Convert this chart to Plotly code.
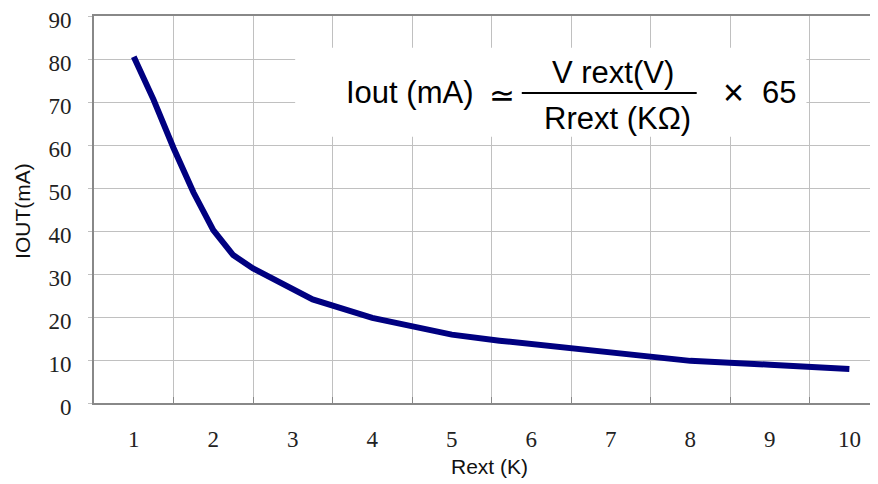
import plotly.graph_objects as go

# Data
rext_k = [1, 1.25, 1.5, 1.75, 2, 2.25, 2.5, 3.25, 4, 5, 5.6, 6.5, 7.5, 8, 9, 10]
iout_ma = [80.5, 70.5, 59.3, 49.0, 40.2, 34.4, 31.3, 24.1, 19.8, 15.9, 14.5, 12.7, 10.8, 9.8, 8.9, 7.9]
x_tick_vals = [1, 2, 3, 4, 5, 6, 7, 8, 9, 10]
x_tick_text = ["1", "2", "3", "4", "5", "6", "7", "8", "9", "10"]
x_grid_vals = [1.5, 2.5, 3.5, 4.5, 5.5, 6.5, 7.5, 8.5, 9.5]
y_tick_vals = [0, 10, 20, 30, 40, 50, 60, 70, 80, 90]

SANS = "Arial, Liberation Sans, sans-serif"
SERIF = "Times New Roman, Liberation Serif, serif"
GRID = "#c0c0c0"
AXIS = "#888888"

fig = go.Figure()
fig.add_trace(go.Scatter(
    x=rext_k, y=iout_ma, mode="lines",
    line=dict(color="#000080", width=6),
    hoverinfo="skip", showlegend=False,
))

# page body has an 8px margin, so the figure is 870x476 to fill the window
fig.update_layout(
    width=870, height=476,
    margin=dict(l=86, r=0, t=8, b=81, autoexpand=False),
    paper_bgcolor="white", plot_bgcolor="white",
    xaxis=dict(
        range=[0.5, 10.36], automargin=False,
        tickmode="array", tickvals=x_tick_vals, ticktext=x_tick_text,
        showgrid=False, ticks="", ticklabelstandoff=14,
        tickfont=dict(family=SERIF, size=23, color="#222"),
        showline=True, linecolor=AXIS, linewidth=2, mirror=True,
        zeroline=False,
        minor=dict(tickmode="array", tickvals=x_grid_vals, showgrid=True,
                   gridcolor=GRID, gridwidth=1, ticks="inside", ticklen=6,
                   tickcolor=AXIS, tickwidth=1),
    ),
    yaxis=dict(
        range=[0, 90], automargin=False,
        tickmode="array", tickvals=y_tick_vals,
        showgrid=True, gridcolor=GRID, gridwidth=1,
        ticks="outside", ticklen=4, tickcolor=GRID,
        ticklabelstandoff=12, ticklabelshift=4, ticklabeloverflow="allow",
        tickfont=dict(family=SERIF, size=23, color="#222"),
        showline=True, linecolor=AXIS, linewidth=2,
        zeroline=False,
    ),
)

# axis titles
fig.add_annotation(text="Rext (K)", xref="paper", yref="paper", x=0.505, y=-0.165,
                   xanchor="center", yanchor="middle",
                   showarrow=False, font=dict(family=SANS, size=21, color="#111"))
fig.add_annotation(text="IOUT(mA)", xref="paper", yref="paper", x=-0.092, y=0.496,
                   xanchor="center", yanchor="middle",
                   textangle=-90, showarrow=False, font=dict(family=SANS, size=21, color="#111"))

# white box behind the formula
fig.add_shape(type="rect", xref="x", yref="y", x0=3.03, x1=9.46, y0=61.9, y1=82.6,
              fillcolor="white", line=dict(width=0), layer="above")
# fraction bar
fig.add_shape(type="line", xref="x", yref="y", x0=5.88, x1=8.08, y0=72.1, y1=72.1,
              line=dict(color="black", width=2), layer="above")

def ann(text, x, y, size=31):
    fig.add_annotation(text=text, x=x, y=y, xref="x", yref="y", showarrow=False,
                       xanchor="center", yanchor="middle",
                       font=dict(family=SANS, size=size, color="black"))

ann("Iout (mA)", 4.47, 72.1)
ann("≃", 5.63, 71.6)
ann("V rext(V)", 7.03, 76.9)
ann("Rrext (KΩ)", 7.08, 66.2)
ann("×", 8.54, 72.1, size=36)
ann("65", 9.12, 72.1)

fig.write_html("out.html")
